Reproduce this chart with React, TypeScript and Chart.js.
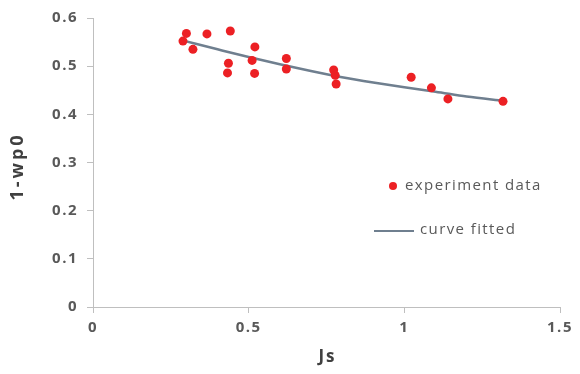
import React, { useEffect, useRef } from 'react';
import { Chart, registerables } from 'chart.js';

Chart.register(...registerables);

// Experiment data (Js, 1-wp0)
const expJs = [0.289, 0.300, 0.321, 0.366, 0.441, 0.435, 0.432, 0.520, 0.511, 0.519, 0.621, 0.621, 0.773, 0.778, 0.781, 1.022, 1.087, 1.140, 1.317];
const expY = [0.552, 0.568, 0.535, 0.567, 0.573, 0.506, 0.486, 0.540, 0.512, 0.485, 0.516, 0.494, 0.492, 0.481, 0.463, 0.477, 0.455, 0.432, 0.427];

// Fitted curve
const fitJs = [0.29, 0.4, 0.5, 0.6, 0.7, 0.8, 0.9, 1.0, 1.1, 1.2, 1.32];
const fitY = [0.553, 0.535, 0.519, 0.504, 0.490, 0.477, 0.466, 0.456, 0.447, 0.437, 0.428];

const xTicks = [0, 0.5, 1, 1.5];
const yTicks = [0, 0.1, 0.2, 0.3, 0.4, 0.5, 0.6];
const legendLabels = ['experiment data', 'curve fitted'];
const xTitle = 'Js';
const yTitle = '1-wp0';

const RED = '#ec2024';
const CURVE = '#6f7f8f';
const AXIS = '#bfbfbf';
const TEXT = '#595959';
const TITLE = '#404040';
const FONT = '"Open Sans", "Liberation Sans", sans-serif';

const spacingPlugin = {
  id: 'tickSpacing',
  beforeDraw(chart: any) {
    (chart.ctx as any).letterSpacing = '1.5px';
  },
};

const overlayPlugin = {
  id: 'customOverlay',
  afterDraw(chart: any) {
    const ctx = chart.ctx;
    const area = chart.chartArea;
    ctx.save();
    // Axis titles
    ctx.fillStyle = TITLE;
    ctx.textBaseline = 'middle';
    ctx.textAlign = 'center';
    (ctx as any).letterSpacing = '2px';
    ctx.font = `bold 17px ${FONT}`;
    ctx.fillText(xTitle, (area.left + area.right) / 2 + 1, 357);
    ctx.save();
    ctx.translate(18, (area.top + area.bottom) / 2 + 4);
    ctx.rotate(-Math.PI / 2);
    (ctx as any).letterSpacing = '3px';
    ctx.font = `bold 18px ${FONT}`;
    ctx.fillText(yTitle, 0, 0);
    ctx.restore();

    // Legend
    (ctx as any).letterSpacing = '1.4px';
    ctx.font = `15px ${FONT}`;
    ctx.textAlign = 'left';
    ctx.beginPath();
    ctx.arc(393, 186, 4, 0, Math.PI * 2);
    ctx.fillStyle = RED;
    ctx.fill();
    ctx.fillStyle = TEXT;
    ctx.fillText(legendLabels[0], 405, 186);
    ctx.beginPath();
    ctx.moveTo(374, 231);
    ctx.lineTo(414, 231);
    ctx.strokeStyle = CURVE;
    ctx.lineWidth = 2;
    ctx.stroke();
    ctx.fillText(legendLabels[1], 420, 230);
    ctx.restore();
  },
};

export default function App() {
  const ref = useRef<HTMLCanvasElement>(null);

  useEffect(() => {
    document.body.style.margin = '0';
    const canvas = ref.current;
    if (!canvas) return;
    const chart = new Chart(canvas, {
      type: 'scatter',
      data: {
        datasets: [
          {
            label: legendLabels[0],
            data: expJs.map((x, i) => ({ x, y: expY[i] })),
            backgroundColor: RED,
            borderColor: RED,
            pointRadius: 4.5,
            pointBorderWidth: 0,
            showLine: false,
          },
          {
            label: legendLabels[1],
            data: fitJs.map((x, i) => ({ x, y: fitY[i] })),
            borderColor: CURVE,
            backgroundColor: CURVE,
            borderWidth: 2.5,
            pointRadius: 0,
            showLine: true,
            cubicInterpolationMode: 'monotone',
          } as any,
        ],
      },
      options: {
        responsive: false,
        animation: false,
        devicePixelRatio: 1,
        layout: { padding: { top: 18, right: 20, left: 0, bottom: 0 } },
        plugins: {
          legend: { display: false },
          tooltip: { enabled: false },
        },
        scales: {
          x: {
            type: 'linear',
            min: 0,
            max: 1.5,
            afterBuildTicks: (s: any) => {
              s.ticks = xTicks.map((v) => ({ value: v }));
            },
            afterFit: (s: any) => {
              s.height = 67;
            },
            ticks: {
              callback: (v: any) => String(v),
              color: TEXT,
              font: { family: FONT, size: 15, weight: 'bold' },
              padding: 6,
              maxRotation: 0,
            },
            grid: { drawOnChartArea: false, color: AXIS, tickLength: 6 },
            border: { color: AXIS, width: 1 },
            title: { display: false, text: xTitle },
          },
          y: {
            type: 'linear',
            min: 0,
            max: 0.6,
            afterBuildTicks: (s: any) => {
              s.ticks = yTicks.map((v) => ({ value: v }));
            },
            afterFit: (s: any) => {
              s.width = 93;
            },
            ticks: {
              callback: (v: any) => String(v),
              color: TEXT,
              font: { family: FONT, size: 15, weight: 'bold' },
              padding: 9,
            },
            grid: { drawOnChartArea: false, color: AXIS, tickLength: 6 },
            border: { color: AXIS, width: 1 },
            title: { display: false, text: yTitle },
          },
        },
      },
      plugins: [spacingPlugin, overlayPlugin],
    });
    return () => chart.destroy();
  }, []);

  return (
    <div style={{ width: 580, height: 374, background: '#fff' }}>
      <canvas ref={ref} width={580} height={374} style={{ display: 'block' }} />
    </div>
  );
}
